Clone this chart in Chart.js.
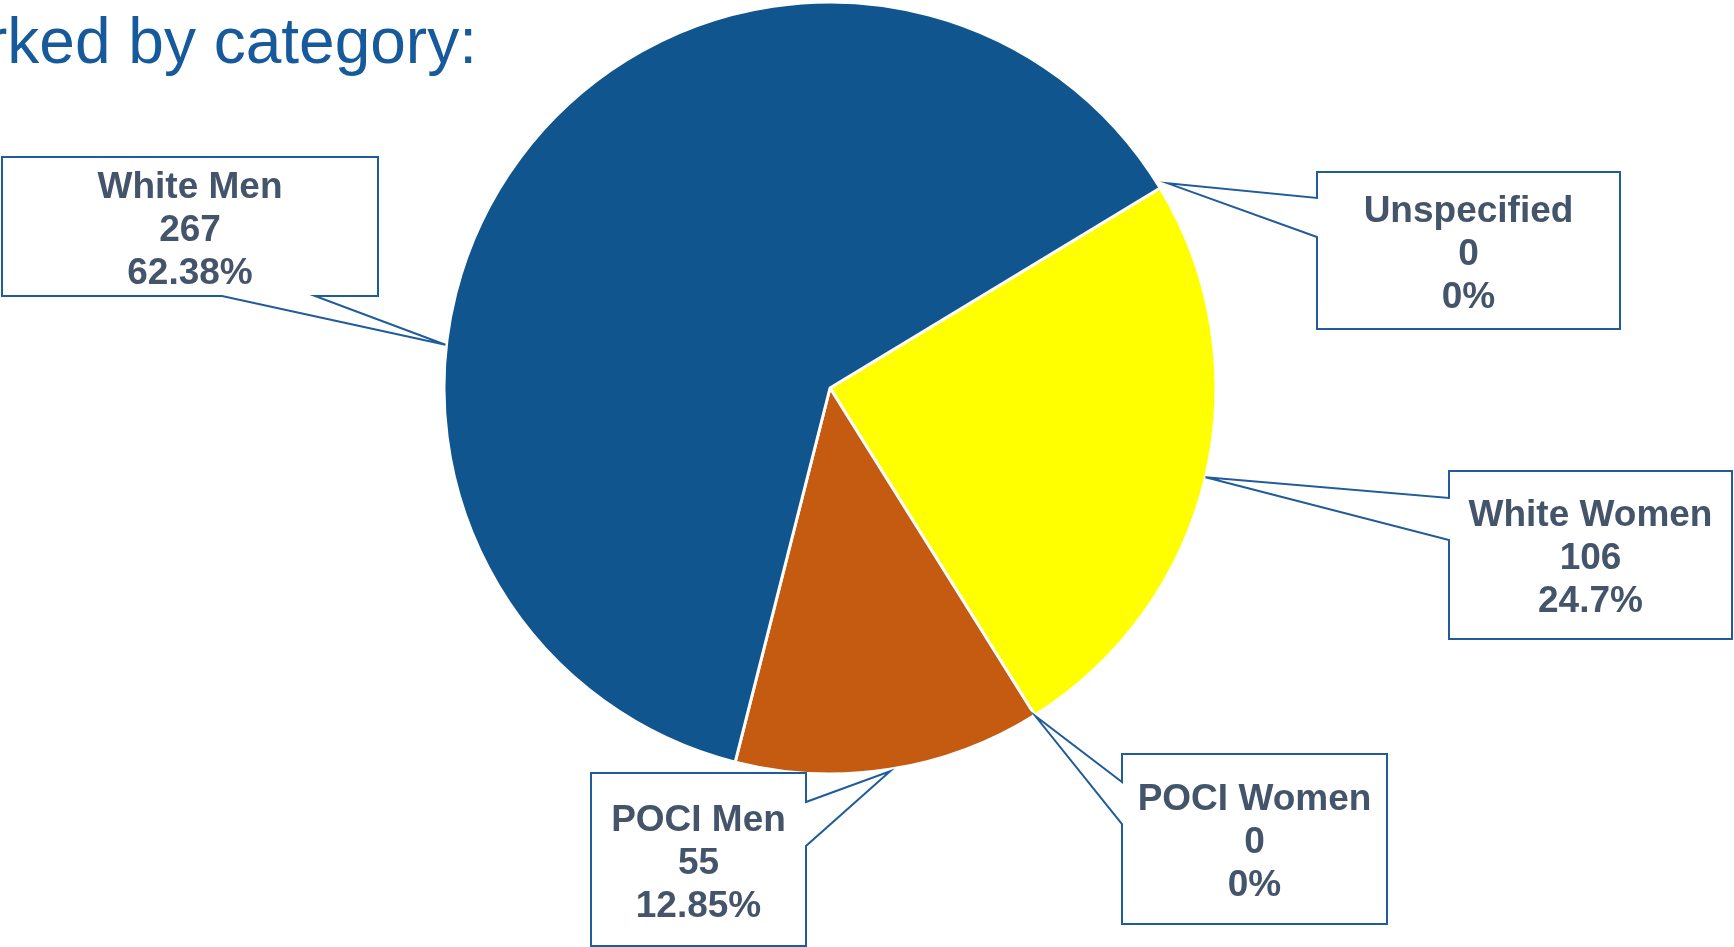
<!DOCTYPE html>
<html>
<head>
<meta charset="utf-8">
<script src="https://cdn.jsdelivr.net/npm/chart.js@4.4.1/dist/chart.umd.min.js"></script>
<style>
    html, body { margin: 0; padding: 0; background: #fff; overflow: hidden; }
    #wrap { position: relative; width: 1734px; height: 947px; }
</style>
</head>
<body>
<div id="wrap"><canvas id="pieChart" width="1734" height="947"></canvas></div>
<script>
// ============================================
// DATA (clockwise from the White Women slice)
// ============================================
const categories = ['White Women', 'POCI Women', 'POCI Men', 'White Men', 'Unspecified'];
const counts = [106, 0, 55, 267, 0];
const pctLabels = ['24.7%', '0%', '12.85%', '62.38%', '0%'];
const sliceColors = ['#FFFF00', '#7F7F7F', '#C55A11', '#11558F', '#A5A5A5'];

const titleText = 'rked by category:';

// ============================================
// CALLOUT LAYOUT (box position, pointer edge, where on the slice it points)
// ============================================
const callouts = {
    'White Men':   { x: 2,    y: 157, w: 376, h: 139, edge: 'bottom', p: [222, 315], frac: 0.366, extra: 1 },
    'Unspecified': { x: 1317, y: 172, w: 303, h: 157, edge: 'left',   p: [198, 237], frac: 0.5,   extra: 9 },
    'White Women': { x: 1449, y: 471, w: 283, h: 168, edge: 'left',   p: [498, 540], frac: 0.5,   extra: 0 },
    'POCI Women':  { x: 1122, y: 754, w: 265, h: 170, edge: 'left',   p: [782, 824], frac: 0.5,   extra: 1 },
    'POCI Men':    { x: 591,  y: 773, w: 215, h: 173, edge: 'right',  p: [802, 846], frac: 0.5,   extra: 2 }
};

function calloutPath(ctx, b, tip) {
    const L = b.x, T = b.y, R = b.x + b.w, B = b.y + b.h;
    const [p1, p2] = b.p;
    const pts = [[L, T]];
    if (b.edge === 'top') pts.push([p1, T], tip, [p2, T]);
    pts.push([R, T]);
    if (b.edge === 'right') pts.push([R, p1], tip, [R, p2]);
    pts.push([R, B]);
    if (b.edge === 'bottom') pts.push([p2, B], tip, [p1, B]);
    pts.push([L, B]);
    if (b.edge === 'left') pts.push([L, p2], tip, [L, p1]);
    ctx.beginPath();
    pts.forEach((pt, i) => i ? ctx.lineTo(pt[0], pt[1]) : ctx.moveTo(pt[0], pt[1]));
    ctx.closePath();
}

const calloutPlugin = {
    id: 'callouts',
    afterDatasetsDraw(chart) {
        const ctx = chart.ctx;
        const arcs = chart.getDatasetMeta(0).data;
        ctx.save();

        // title fragment at top-left
        ctx.font = '64px "Liberation Sans", Arial, sans-serif';
        ctx.fillStyle = '#175A9C';
        ctx.textAlign = 'left';
        ctx.textBaseline = 'alphabetic';
        ctx.fillText(titleText, -14, 63);

        categories.forEach((name, i) => {
            const b = callouts[name];
            const arc = arcs[i];
            const a = arc.startAngle + b.frac * (arc.endAngle - arc.startAngle);
            const r = arc.outerRadius + b.extra;
            const tip = [arc.x + r * Math.cos(a), arc.y + r * Math.sin(a)];

            calloutPath(ctx, b, tip);
            ctx.fillStyle = '#ffffff';
            ctx.fill();
            ctx.lineWidth = 2;
            ctx.strokeStyle = '#1F5C99';
            ctx.lineJoin = 'miter';
            ctx.stroke();

            const lines = [name, String(counts[i]), pctLabels[i]];
            ctx.font = 'bold 37px "Liberation Sans", Arial, sans-serif';
            ctx.fillStyle = '#44546A';
            ctx.textAlign = 'center';
            ctx.textBaseline = 'alphabetic';
            const cx = b.x + b.w / 2;
            const cy = b.y + b.h / 2;
            lines.forEach((t, k) => ctx.fillText(t, cx, cy + 14 + (k - 1) * 43));
        });
        ctx.restore();
    }
};

// ============================================
// PIE CHART
// ============================================
new Chart(document.getElementById('pieChart'), {
    type: 'pie',
    data: {
        labels: categories,
        datasets: [{
            data: counts,
            backgroundColor: sliceColors,
            borderColor: '#ffffff',
            borderWidth: 3,
            hoverOffset: 0,
            radius: 386
        }]
    },
    options: {
        responsive: false,
        animation: false,
        events: [],
        rotation: 58.8,
        layout: {
            padding: { left: 444, right: 518, top: 2, bottom: 173 }
        },
        plugins: {
            legend: { display: false },
            tooltip: { enabled: false }
        }
    },
    plugins: [calloutPlugin]
});
</script>
</body>
</html>
